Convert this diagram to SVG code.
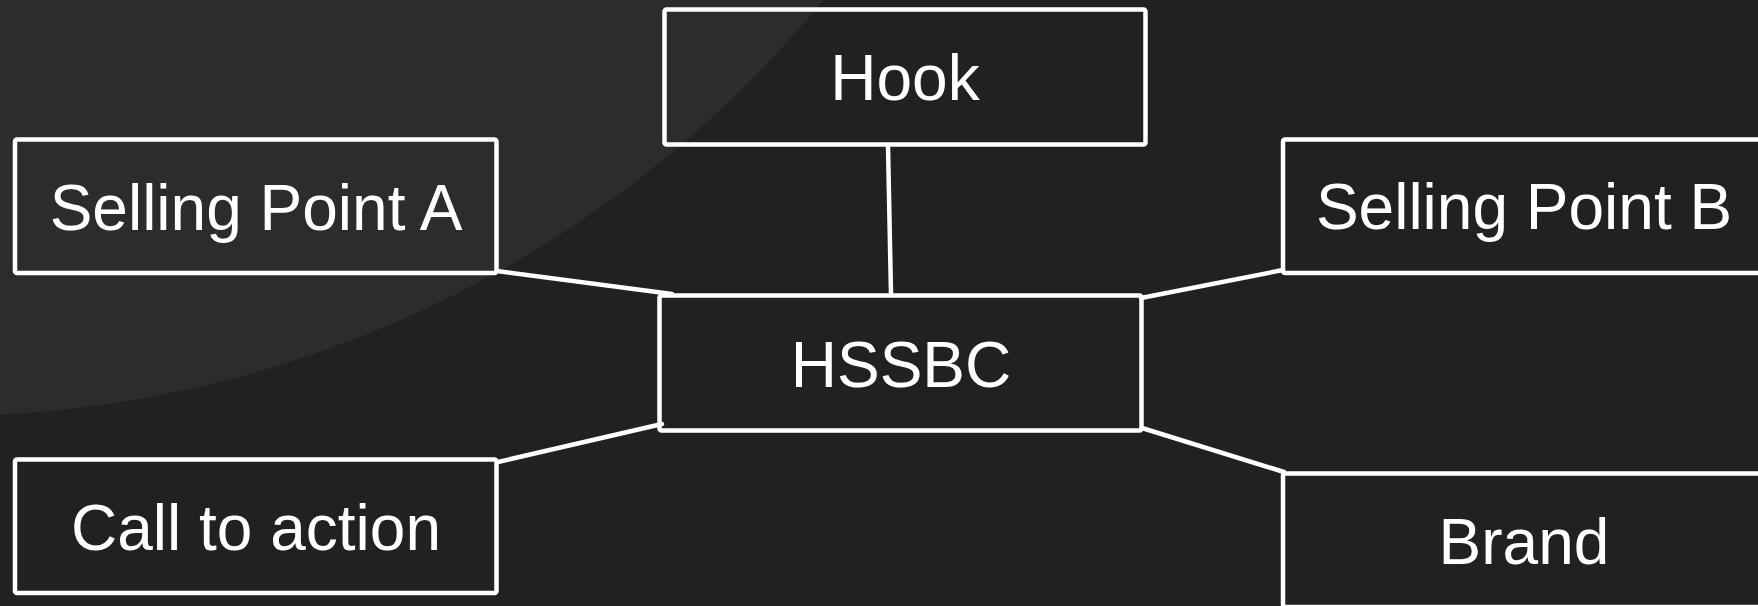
<svg xmlns="http://www.w3.org/2000/svg" width="1758" height="606" viewBox="0 0 1758 606">
  <style>
    .box { fill: none; stroke: #ffffff; stroke-width: 4.5; stroke-linejoin: round; }
    .lbl { font-family: "Liberation Sans", Arial, sans-serif; font-size: 64px; fill: #ffffff; text-anchor: middle; }
    .link { stroke: #ffffff; stroke-width: 4.5; stroke-linecap: round; fill: none; }
  </style>
  <!-- backdrop: dark slate with a soft lighter disc in the upper left -->
  <rect x="0" y="0" width="1758" height="606" fill="#212121"/>
  <circle cx="-57" cy="-724" r="1140" fill="#2c2c2c"/>

  <g id="connectors">
    <line class="link" x1="888" y1="146" x2="891" y2="294"/>
    <line class="link" x1="497" y1="271" x2="672" y2="294"/>
    <line class="link" x1="498" y1="462" x2="662" y2="424"/>
    <line class="link" x1="1141" y1="298" x2="1283" y2="270"/>
    <line class="link" x1="1142" y1="428" x2="1284" y2="472"/>
  </g>

  <g id="node-hook">
    <rect class="box" x="664.5" y="9.5" width="481" height="135" rx="2"/>
    <text class="lbl" x="905" y="100">Hook</text>
  </g>
  <g id="node-selling-point-a">
    <rect class="box" x="15" y="139.5" width="481.5" height="133.5" rx="2"/>
    <text class="lbl" x="256" y="230">Selling Point A</text>
  </g>
  <g id="node-hssbc">
    <rect class="box" x="659.5" y="295.5" width="482" height="135" rx="2"/>
    <text class="lbl" x="901" y="387">HSSBC</text>
  </g>
  <g id="node-call-to-action">
    <rect class="box" x="15" y="459.5" width="481.5" height="133.5" rx="2"/>
    <text class="lbl" x="256" y="550">Call to action</text>
  </g>
  <g id="node-selling-point-b">
    <rect class="box" x="1283" y="139.5" width="481.5" height="133.5" rx="2"/>
    <text class="lbl" x="1524" y="229">Selling Point B</text>
  </g>
  <g id="node-brand">
    <rect class="box" x="1283" y="473.5" width="481.5" height="133.5" rx="2"/>
    <text class="lbl" x="1524" y="564">Brand</text>
  </g>
</svg>
